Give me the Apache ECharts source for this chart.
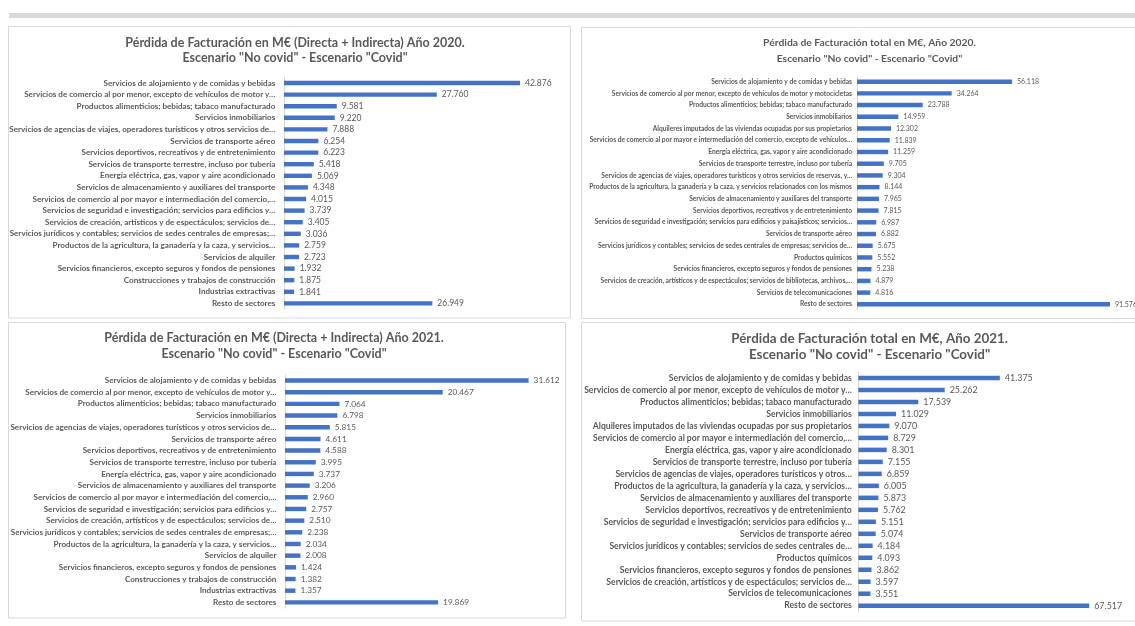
<!DOCTYPE html>
<html>
<head>
<meta charset="utf-8">
<title>Pérdida de Facturación</title>
<script src="https://cdn.jsdelivr.net/npm/echarts/dist/echarts.min.js"></script>
<style>
  html, body { margin: 0; padding: 0; background: #fff; overflow: hidden; }
  #chart { width: 1135px; height: 626px; }
</style>
</head>
<body>
<div id="chart"></div>
<script>
// ---- data ----
var cats2020di = [
    'Servicios de alojamiento y de comidas y bebidas',
    'Servicios de comercio al por menor, excepto de vehículos de motor y…',
    'Productos alimenticios; bebidas; tabaco manufacturado',
    'Servicios inmobiliarios',
    'Servicios de agencias de viajes, operadores turísticos y otros servicios de…',
    'Servicios de transporte aéreo',
    'Servicios deportivos, recreativos y de entretenimiento',
    'Servicios de transporte terrestre, incluso por tubería',
    'Energía eléctrica, gas, vapor y aire acondicionado',
    'Servicios de almacenamiento y auxiliares del transporte',
    'Servicios de comercio al por mayor e intermediación del comercio,…',
    'Servicios de seguridad e investigación; servicios para edificios y…',
    'Servicios de creación, artísticos y de espectáculos; servicios de…',
    'Servicios jurídicos y contables; servicios de sedes centrales de empresas;…',
    'Productos de la agricultura, la ganadería y la caza, y servicios…',
    'Servicios de alquiler',
    'Servicios financieros, excepto seguros y fondos de pensiones',
    'Construcciones y trabajos de construcción',
    'Industrias extractivas',
    'Resto de sectores'
];
var vals2020di = [42.876, 27.760, 9.581, 9.220, 7.888, 6.254, 6.223, 5.418, 5.069, 4.348,
    4.015, 3.739, 3.405, 3.036, 2.759, 2.723, 1.932, 1.875, 1.841, 26.949];

var cats2020tot = [
    'Servicios de alojamiento y de comidas y bebidas',
    'Servicios de comercio al por menor, excepto de vehículos de motor y motocicletas',
    'Productos alimenticios; bebidas; tabaco manufacturado',
    'Servicios inmobiliarios',
    'Alquileres imputados de las viviendas ocupadas por sus propietarios',
    'Servicios de comercio al por mayor e intermediación del comercio, excepto de vehículos…',
    'Energía eléctrica, gas, vapor y aire acondicionado',
    'Servicios de transporte terrestre, incluso por tubería',
    'Servicios de agencias de viajes, operadores turísticos y otros servicios de reservas, y…',
    'Productos de la agricultura, la ganadería y la caza, y servicios relacionados con los mismos',
    'Servicios de almacenamiento y auxiliares del transporte',
    'Servicios deportivos, recreativos y de entretenimiento',
    'Servicios de seguridad e investigación; servicios para edificios y paisajísticos; servicios…',
    'Servicios de transporte aéreo',
    'Servicios jurídicos y contables; servicios de sedes centrales de empresas; servicios de…',
    'Productos químicos',
    'Servicios financieros, excepto seguros y fondos de pensiones',
    'Servicios de creación, artísticos y de espectáculos; servicios de bibliotecas, archivos,…',
    'Servicios de telecomunicaciones',
    'Resto de sectores'
];
var vals2020tot = [56.118, 34.264, 23.788, 14.959, 12.302, 11.839, 11.259, 9.705, 9.304, 8.144,
    7.965, 7.815, 6.987, 6.882, 5.675, 5.552, 5.238, 4.879, 4.816, 91.576];

var cats2021di = cats2020di.slice();
var vals2021di = [31.612, 20.467, 7.064, 6.798, 5.815, 4.611, 4.588, 3.995, 3.737, 3.206,
    2.960, 2.757, 2.510, 2.238, 2.034, 2.008, 1.424, 1.382, 1.357, 19.869];

var cats2021tot = [
    'Servicios de alojamiento y de comidas y bebidas',
    'Servicios de comercio al por menor, excepto de vehículos de motor y…',
    'Productos alimenticios; bebidas; tabaco manufacturado',
    'Servicios inmobiliarios',
    'Alquileres imputados de las viviendas ocupadas por sus propietarios',
    'Servicios de comercio al por mayor e intermediación del comercio,…',
    'Energía eléctrica, gas, vapor y aire acondicionado',
    'Servicios de transporte terrestre, incluso por tubería',
    'Servicios de agencias de viajes, operadores turísticos y otros…',
    'Productos de la agricultura, la ganadería y la caza, y servicios…',
    'Servicios de almacenamiento y auxiliares del transporte',
    'Servicios deportivos, recreativos y de entretenimiento',
    'Servicios de seguridad e investigación; servicios para edificios y…',
    'Servicios de transporte aéreo',
    'Servicios jurídicos y contables; servicios de sedes centrales de…',
    'Productos químicos',
    'Servicios financieros, excepto seguros y fondos de pensiones',
    'Servicios de creación, artísticos y de espectáculos; servicios de…',
    'Servicios de telecomunicaciones',
    'Resto de sectores'
];
var vals2021tot = [41.375, 25.262, 17.539, 11.029, 9.070, 8.729, 8.301, 7.155, 6.859, 6.005,
    5.873, 5.762, 5.151, 5.074, 4.184, 4.093, 3.862, 3.597, 3.551, 67.517];

var title2020di = 'Pérdida de Facturación en M€ (Directa + Indirecta) Año 2020.';
var title2020tot = 'Pérdida de Facturación total en M€, Año 2020.';
var title2021di = 'Pérdida de Facturación en M€ (Directa + Indirecta) Año 2021.';
var title2021tot = 'Pérdida de Facturación total en M€, Año 2021.';
var subtitle = 'Escenario "No covid" - Escenario "Covid"';

// ---- helpers ----
var FONT = 'Lato';
var GREY = '#595959';
var measureCtx = document.createElement('canvas').getContext('2d');

// font size so that text is about `width` px wide
function fitFont(text, weight, width) {
    measureCtx.font = weight + ' 100px ' + FONT;
    return 100 * width / measureCtx.measureText(text).width;
}

var chart = echarts.init(document.getElementById('chart'));
var option = {
    animation: false,
    title: [],
    grid: [],
    xAxis: [],
    yAxis: [],
    series: [],
    graphic: [{
        type: 'rect',
        shape: { x: 9, y: 13, width: 1130, height: 5 },
        style: { fill: '#d9d9d9' }
    }]
};

function addPanel(p) {
    var i = option.grid.length;
    option.graphic.push({
        type: 'rect',
        shape: { x: p.box[0], y: p.box[1], width: p.box[2], height: p.box[3] },
        style: { fill: null, stroke: '#d9d9d9', lineWidth: 1 }
    });
    var tSize = fitFont(p.title, 'bold', p.titleWidth);
    option.title.push({
        text: p.title + '\n' + subtitle,
        left: p.titleX,
        top: p.titleTop,
        textAlign: 'center',
        textStyle: {
            fontFamily: FONT,
            fontWeight: 'bold',
            fontSize: tSize,
            lineHeight: p.lineHeight,
            color: GREY
        }
    });
    option.grid.push({
        left: p.grid[0], top: p.grid[1], width: p.grid[2], height: p.grid[3]
    });
    option.xAxis.push({
        gridIndex: i,
        type: 'value',
        min: 0,
        max: p.max,
        show: false
    });
    option.yAxis.push({
        gridIndex: i,
        type: 'category',
        inverse: true,
        data: p.cats,
        axisTick: { show: false },
        axisLine: { lineStyle: { color: '#d9d9d9', width: 1 } },
        axisLabel: {
            interval: 0,
            margin: p.labelMargin,
            fontFamily: FONT,
            fontWeight: 'bold',
            fontSize: fitFont('Servicios financieros, excepto seguros y fondos de pensiones', 'bold', p.labelWidth),
            color: GREY
        }
    });
    option.series.push({
        type: 'bar',
        xAxisIndex: i,
        yAxisIndex: i,
        data: p.vals,
        barWidth: '38%',
        itemStyle: { color: '#4472c4' },
        label: {
            show: true,
            position: 'right',
            distance: 5,
            fontFamily: FONT,
            fontSize: fitFont(p.vals[0].toFixed(3), 'normal', p.valueWidth),
            color: GREY,
            formatter: function(d) {
                return d.value.toFixed(3);
            }
        }
    });
}

addPanel({
    cats: cats2020di, vals: vals2020di, title: title2020di,
    box: [8.5, 26.5, 562, 291.5],
    titleX: 290, titleTop: 30, lineHeight: 15.6, titleWidth: 340,
    grid: [284, 77.2, 275.2, 232], max: 50,
    labelMargin: 8.7, labelWidth: 218, valueWidth: 26.7
});
addPanel({
    cats: cats2020tot, vals: vals2020tot, title: title2020tot,
    box: [581.5, 27.5, 600, 291],
    titleX: 864.5, titleTop: 30, lineHeight: 15.6, titleWidth: 213,
    grid: [857, 75.8, 276.3, 234.4], max: 100,
    labelMargin: 5, labelWidth: 179, valueWidth: 22
});
addPanel({
    cats: cats2021di, vals: vals2021di, title: title2021di,
    box: [8.5, 322.5, 557, 295.5],
    titleX: 269, titleTop: 324.5, lineHeight: 16.5, titleWidth: 340,
    grid: [285, 374.7, 269.7, 233.5], max: 35,
    labelMargin: 8.6, labelWidth: 218, valueWidth: 26
});
addPanel({
    cats: cats2021tot, vals: vals2021tot, title: title2021tot,
    box: [581.5, 322.5, 600, 298.5],
    titleX: 864.6, titleTop: 325.3, lineHeight: 16.5, titleWidth: 277,
    grid: [858.3, 372, 273.6, 239.7], max: 80,
    labelMargin: 6.5, labelWidth: 232, valueWidth: 28
});

chart.setOption(option);
</script>
</body>
</html>
